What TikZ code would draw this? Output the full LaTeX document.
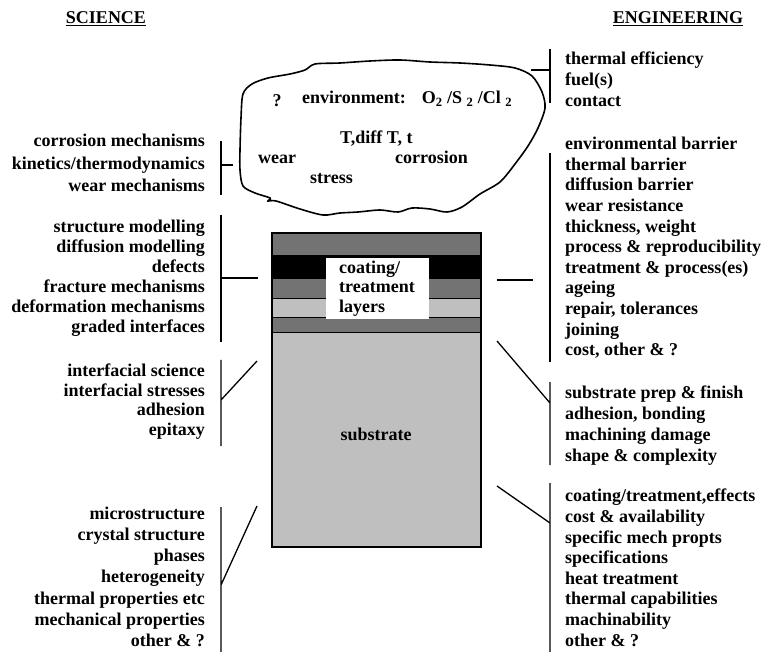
\documentclass[tikz,border=0pt]{standalone}
\usepackage{fontspec}
\setmainfont{Liberation Serif}

\tikzset{
  lbl/.style={inner sep=0pt, font=\fontsize{18}{20.6}\selectfont\bfseries},
  sci/.style={lbl, align=right, anchor=north east},
  eng/.style={lbl, align=left, anchor=north west},
  tag/.style={lbl, anchor=base west},
  brace/.style={line width=1.3pt},
  layer/.style={draw=black, line width=1pt},
}

\begin{document}
\begin{tikzpicture}[x=1pt,y=-1pt]
\useasboundingbox (0,0) rectangle (774,652);

% headings
\node[lbl, anchor=base] (sci) at (106,24) {\underline{SCIENCE}};
\node[lbl, anchor=base] (eng) at (678,24) {\underline{ENGINEERING}};

% service environment
\draw[line width=1.6pt] plot[smooth cycle, tension=0.5] coordinates {
  (240,150) (241,118) (243,94) (252,84) (268,78) (290,74) (305,70) (315,64)
  (340,63) (370,61) (400,60) (430,62) (460,63) (490,65) (515,68) (532,76)
  (542,92) (545,108) (538,128) (528,146) (515,164) (500,182) (480,194)
  (462,207) (447,212) (430,209) (412,208) (398,212) (380,210) (358,212)
  (340,213) (323,215) (300,209) (276,201) (268,201) (270,198) (255,193)
  (243,186) (240,170)};
\node[lbl, anchor=base] (q) at (277,107) {?};
\node[tag] (env) at (302,104) {environment:\hspace{16pt}O\textsubscript{2} /S \textsubscript{2} /Cl \textsubscript{2}};
\node[tag] (temp) at (340,144) {T,diff T, t};
\node[tag] (wear) at (258,164) {wear};
\node[tag] (corr) at (395,164) {corrosion};
\node[tag] (stress) at (310,184) {stress};

% coated component
\draw[layer, fill=black!25] (272,333) rectangle (481,547);
\draw[layer, fill=black!55] (272,233) rectangle (481,256);
\draw[layer, fill=black] (272,256) rectangle (481,279);
\draw[layer, fill=black!55] (272,279) rectangle (481,299);
\draw[layer, fill=black!25] (272,299) rectangle (481,318);
\draw[layer, fill=black!55] (272,318) rectangle (481,333);
\draw[line width=1.3pt] (272,233) rectangle (481,547);
\node[lbl, fill=white, align=left, minimum width=103, minimum height=61,
  font=\fontsize{18}{19.5}\selectfont\bfseries] (coat) at (377,288.5)
  {coating/\\treatment\\layers};
\node[lbl] (sub) at (376,434) {substrate};

% science side
\node[sci, font=\fontsize{18}{22.5}\selectfont\bfseries] (sciA) at (205,134)
  {corrosion mechanisms\\kinetics/thermodynamics\\wear mechanisms};
\node[sci, font=\fontsize{18}{20}\selectfont\bfseries] (sciB) at (205,220)
  {structure modelling\\diffusion modelling\\defects\\fracture mechanisms\\deformation mechanisms\\graded interfaces};
\node[sci, font=\fontsize{18}{19.4}\selectfont\bfseries] (sciC) at (205,364)
  {interfacial science\\interfacial stresses\\adhesion\\epitaxy};
\node[sci, font=\fontsize{18}{21.1}\selectfont\bfseries] (sciD) at (205,507)
  {microstructure\\crystal structure\\phases\\heterogeneity\\thermal properties etc\\mechanical properties\\other \& ?};

% engineering side
\node[eng, font=\fontsize{18}{21}\selectfont\bfseries] (engA) at (565,52)
  {thermal efficiency\\fuel(s)\\contact};
\node[eng] (engB) at (565,137)
  {environmental barrier\\thermal barrier\\diffusion barrier\\wear resistance\\thickness, weight\\process \& reproducibility\\treatment \& process(es)\\ageing\\repair, tolerances\\joining\\cost, other \& ?};
\node[eng, font=\fontsize{18}{21}\selectfont\bfseries] (engC) at (565,386)
  {substrate prep \& finish\\adhesion, bonding\\machining damage\\shape \& complexity};
\node[eng] (engD) at (565,489)
  {coating/treatment,effects\\cost \& availability\\specific mech propts\\specifications\\heat treatment\\thermal capabilities\\machinability\\other \& ?};

% brackets
\coordinate (sA1) at (221,141); \coordinate (sA2) at (221,195); \coordinate (sAm) at (221,165);
\coordinate (sB1) at (221,215); \coordinate (sB2) at (221,342); \coordinate (sBm) at (221,278);
\coordinate (sC1) at (221,360); \coordinate (sC2) at (221,446); \coordinate (sCm) at (221,400);
\coordinate (sD1) at (221,507); \coordinate (sD2) at (221,652); \coordinate (sDm) at (221,585);
\coordinate (eA1) at (550,49);  \coordinate (eA2) at (550,103); \coordinate (eAm) at (550,70);
\coordinate (eB1) at (550,153); \coordinate (eB2) at (550,362);
\coordinate (eC1) at (550,382); \coordinate (eC2) at (550,465); \coordinate (eCm) at (550,403);
\coordinate (eD1) at (550,483); \coordinate (eD2) at (550,652); \coordinate (eDm) at (550,523);

\coordinate (cloudW) at (233,165);
\coordinate (cloudE) at (531,70);
\coordinate (coatW) at (258,278);
\coordinate (coatE1) at (497,280);
\coordinate (coatE2) at (533,280);
\coordinate (ifaceW) at (257,361);
\coordinate (ifaceE) at (497,341);
\coordinate (bulkW) at (257,506);
\coordinate (bulkE) at (497,486);

\draw[brace] (sA1) -- (sA2) (sAm) -- (cloudW);
\draw[brace] (sB1) -- (sB2) (sBm) -- (coatW);
\draw[brace] (sC1) -- (sC2) (sCm) -- (ifaceW);
\draw[brace] (sD1) -- (sD2) (sDm) -- (bulkW);
\draw[brace] (eA1) -- (eA2) (eAm) -- (cloudE);
\draw[brace] (eB1) -- (eB2) (coatE1) -- (coatE2);
\draw[brace] (eC1) -- (eC2) (eCm) -- (ifaceE);
\draw[brace] (eD1) -- (eD2) (eDm) -- (bulkE);
\end{tikzpicture}
\end{document}
